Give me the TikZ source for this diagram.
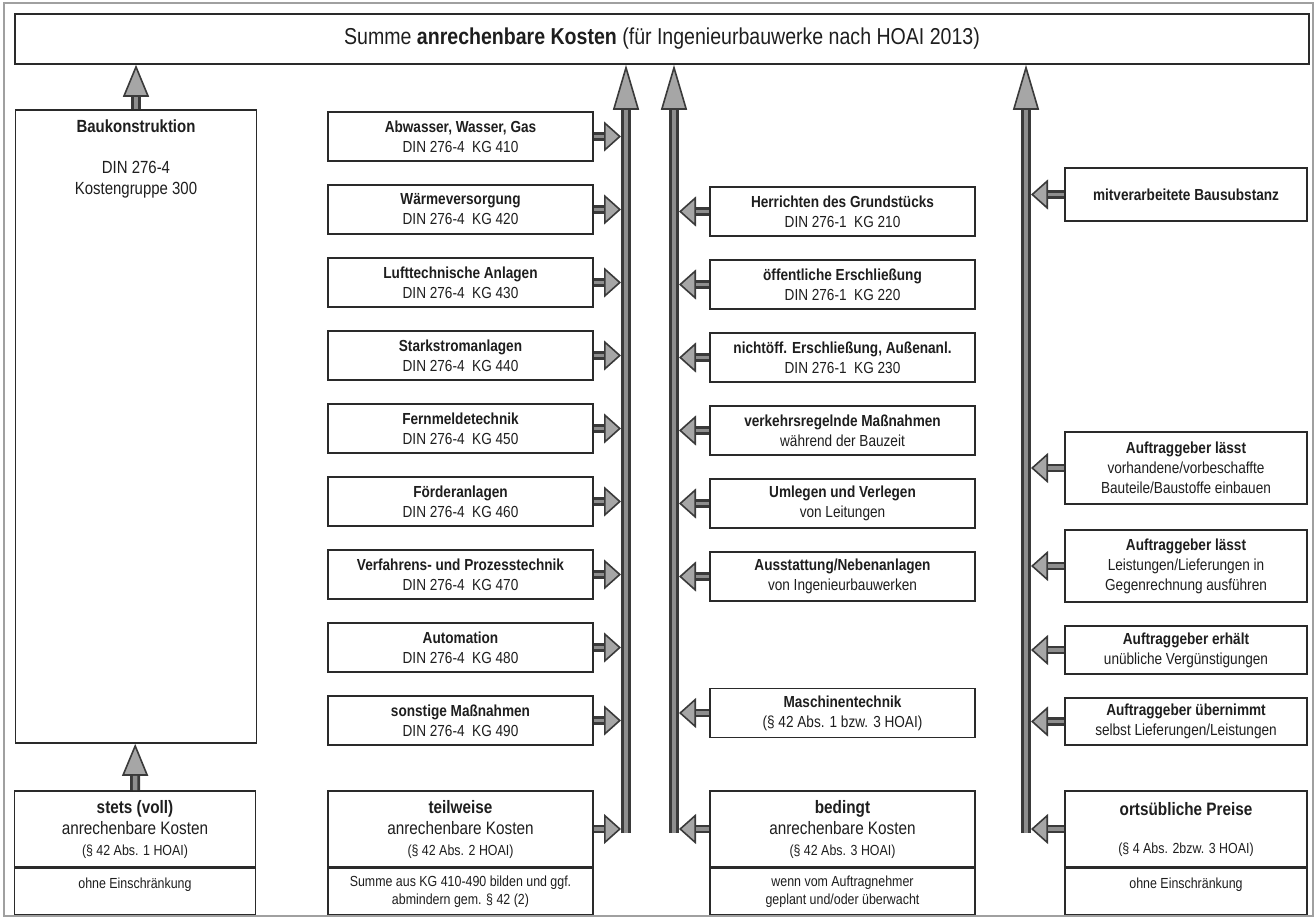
\documentclass[tikz,border=0pt]{standalone}
\usepackage{fontspec}
\setmainfont{Liberation Sans}[FakeStretch=0.85]
\usetikzlibrary{arrows.meta,positioning}

\definecolor{ink}{HTML}{1E1E1E}
\definecolor{boxline}{HTML}{2A2A2A}
\definecolor{shaftedge}{HTML}{3A3A3A}
\definecolor{shaftcore}{HTML}{8E8E8E}
\definecolor{headfill}{HTML}{A6A6A6}
\definecolor{frameline}{HTML}{A0A0A0}

\newcommand{\paraline}{\fontsize{7.3}{9}\selectfont}

\begin{document}
\begin{tikzpicture}[x=0.5pt,y=-0.5pt,node distance=11.2pt,
    box/.style={draw=boxline,line width=0.8pt,fill=white,text=ink,align=center,
                inner sep=1pt,font=\fontsize{8}{10}\selectfont},
    sumbox/.style={box,minimum width=647pt,minimum height=25pt,
                   font=\fontsize{11.5}{13}\selectfont},
    kgbox/.style={box,minimum width=132.5pt,minimum height=24.5pt},
    agbox/.style={box,minimum width=121pt},
    headbox/.style={box,minimum height=38pt,font=\fontsize{9}{10.5}\selectfont},
    footbox/.style={box,minimum height=23pt,font=\fontsize{7.3}{9}\selectfont},
    footone/.style={footbox,text depth=8pt},
    busarrow/.style={draw=shaftedge,line width=5pt,
        -{Triangle[length=22.5pt,width=13pt,line width=0.8pt,fill=headfill]},
        postaction={draw=shaftcore,line width=2.2pt,-,shorten >=22.5pt}},
    uparrow/.style={draw=shaftedge,line width=5pt,
        -{Triangle[length=16pt,width=13pt,line width=0.8pt,fill=headfill]},
        postaction={draw=shaftcore,line width=2.2pt,-,shorten >=16pt}},
    feedarrow/.style={draw=shaftedge,line width=4.4pt,shorten >=2.5pt,
        -{Triangle[length=8.5pt,width=15pt,line width=0.8pt,fill=headfill]},
        postaction={draw=shaftcore,line width=1.8pt,-,shorten >=11pt}}]

  \useasboundingbox (0,0) rectangle (1316,919);
  \draw[frameline,line width=0.6pt] (4,3) rectangle (1313,916);

  % Summe
  \node[sumbox] (SUM) at (662,39)
    {Summe \textbf{anrechenbare Kosten} (für Ingenieurbauwerke nach HOAI 2013)};

  % stets (voll) anrechenbar
  \node[box,minimum width=120.5pt,minimum height=316.5pt] (BAU) at (136,426.5) {};
  \node[align=center,text=ink,inner sep=1pt,font=\fontsize{8.8}{10.5}\selectfont,
        below=4pt of BAU.north] (BAUtxt)
    {\textbf{Baukonstruktion}\\[10pt]DIN 276-4\\Kostengruppe 300};

  % teilweise anrechenbar
  \node[kgbox] (ABW) at (460.5,136.5) {\textbf{Abwasser, Wasser, Gas}\\DIN 276-4~~KG 410};
  \node[kgbox,below=of ABW] (WRM) {\textbf{Wärmeversorgung}\\DIN 276-4~~KG 420};
  \node[kgbox,below=of WRM] (LFT) {\textbf{Lufttechnische Anlagen}\\DIN 276-4~~KG 430};
  \node[kgbox,below=of LFT] (STK) {\textbf{Starkstromanlagen}\\DIN 276-4~~KG 440};
  \node[kgbox,below=of STK] (FMT) {\textbf{Fernmeldetechnik}\\DIN 276-4~~KG 450};
  \node[kgbox,below=of FMT] (FOE) {\textbf{Förderanlagen}\\DIN 276-4~~KG 460};
  \node[kgbox,below=of FOE] (VPT) {\textbf{Verfahrens- und Prozesstechnik}\\DIN 276-4~~KG 470};
  \node[kgbox,below=of VPT] (AUT) {\textbf{Automation}\\DIN 276-4~~KG 480};
  \node[kgbox,below=of AUT] (SON) {\textbf{sonstige Maßnahmen}\\DIN 276-4~~KG 490};

  % bedingt anrechenbar
  \node[kgbox] (HGR) at (842.5,211.5) {\textbf{Herrichten des Grundstücks}\\DIN 276-1~~KG 210};
  \node[kgbox,below=of HGR] (OER) {\textbf{öffentliche Erschließung}\\DIN 276-1~~KG 220};
  \node[kgbox,below=of OER] (NER) {\textbf{nichtöff. Erschließung, Außenanl.}\\DIN 276-1~~KG 230};
  \node[kgbox,below=of NER] (VRM) {\textbf{verkehrsregelnde Maßnahmen}\\während der Bauzeit};
  \node[kgbox,below=of VRM] (ULV) {\textbf{Umlegen und Verlegen}\\von Leitungen};
  \node[kgbox,below=of ULV] (AUS) {\textbf{Ausstattung/Nebenanlagen}\\von Ingenieurbauwerken};
  \node[kgbox] (MAT) at (842.5,713) {\textbf{Maschinentechnik}\\(§ 42 Abs. 1 bzw. 3 HOAI)};

  % ortsuebliche Preise
  \node[agbox,minimum height=26.5pt] (MBS) at (1186,194.5) {\textbf{mitverarbeitete Bausubstanz}};
  \node[agbox,minimum height=36pt] (AGE) at (1186,468)
    {\textbf{Auftraggeber lässt}\\vorhandene/vorbeschaffte\\Bauteile/Baustoffe einbauen};
  \node[agbox,minimum height=36pt] (AGG) at (1186,566)
    {\textbf{Auftraggeber lässt}\\Leistungen/Lieferungen in\\Gegenrechnung ausführen};
  \node[agbox,minimum height=24pt] (AGV) at (1186,650)
    {\textbf{Auftraggeber erhält}\\unübliche Vergünstigungen};
  \node[agbox,minimum height=23.5pt] (AGU) at (1186,721.5)
    {\textbf{Auftraggeber übernimmt}\\selbst Lieferungen/Leistungen};

  % Fussleiste
  \node[headbox,minimum width=120.5pt] (STA) at (135,829)
    {\textbf{stets (voll)}\\anrechenbare Kosten\\{\paraline (§ 42 Abs. 1 HOAI)}};
  \node[footone,minimum width=120.5pt,below=0pt of STA] (STB) {ohne Einschränkung};
  \node[headbox,minimum width=132.5pt] (TWA) at (460.5,829)
    {\textbf{teilweise}\\anrechenbare Kosten\\{\paraline (§ 42 Abs. 2 HOAI)}};
  \node[footbox,minimum width=132.5pt,below=0pt of TWA] (TWB)
    {Summe aus KG 410-490 bilden und ggf.\\abmindern gem. § 42 (2)};
  \node[headbox,minimum width=132.5pt] (BDA) at (842.5,829)
    {\textbf{bedingt}\\anrechenbare Kosten\\{\paraline (§ 42 Abs. 3 HOAI)}};
  \node[footbox,minimum width=132.5pt,below=0pt of BDA] (BDB)
    {wenn vom Auftragnehmer\\geplant und/oder überwacht};
  \node[headbox,minimum width=121pt] (OPA) at (1186,829)
    {\textbf{ortsübliche Preise}\\[8.5pt]{\paraline (§ 4 Abs. 2bzw. 3 HOAI)}};
  \node[footone,minimum width=121pt,below=0pt of OPA] (OPB) {ohne Einschränkung};

  \coordinate (B2) at (626,833);
  \coordinate (B3) at (674,833);
  \coordinate (B4) at (1026,833);

  \draw[uparrow] (BAU) -- (BAU |- SUM.south);
  \draw[uparrow] (STA) -- (BAU);
  \draw[busarrow] (B2) -- (B2 |- SUM.south);
  \draw[busarrow] (B3) -- (B3 |- SUM.south);
  \draw[busarrow] (B4) -- (B4 |- SUM.south);

  \draw[feedarrow] (ABW) -- (ABW -| B2);
  \draw[feedarrow] (WRM) -- (WRM -| B2);
  \draw[feedarrow] (LFT) -- (LFT -| B2);
  \draw[feedarrow] (STK) -- (STK -| B2);
  \draw[feedarrow] (FMT) -- (FMT -| B2);
  \draw[feedarrow] (FOE) -- (FOE -| B2);
  \draw[feedarrow] (VPT) -- (VPT -| B2);
  \draw[feedarrow] (AUT) -- (AUT -| B2);
  \draw[feedarrow] (SON) -- (SON -| B2);
  \draw[feedarrow] (TWA) -- (TWA -| B2);

  \draw[feedarrow] (HGR) -- (HGR -| B3);
  \draw[feedarrow] (OER) -- (OER -| B3);
  \draw[feedarrow] (NER) -- (NER -| B3);
  \draw[feedarrow] (VRM) -- (VRM -| B3);
  \draw[feedarrow] (ULV) -- (ULV -| B3);
  \draw[feedarrow] (AUS) -- (AUS -| B3);
  \draw[feedarrow] (MAT) -- (MAT -| B3);
  \draw[feedarrow] (BDA) -- (BDA -| B3);

  \draw[feedarrow] (MBS) -- (MBS -| B4);
  \draw[feedarrow] (AGE) -- (AGE -| B4);
  \draw[feedarrow] (AGG) -- (AGG -| B4);
  \draw[feedarrow] (AGV) -- (AGV -| B4);
  \draw[feedarrow] (AGU) -- (AGU -| B4);
  \draw[feedarrow] (OPA) -- (OPA -| B4);
\end{tikzpicture}
\end{document}
